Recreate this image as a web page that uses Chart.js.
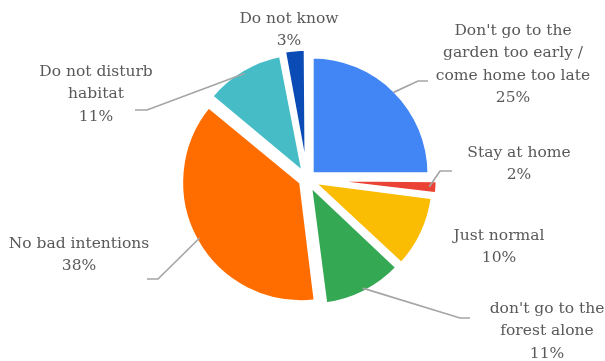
<!DOCTYPE html>
<html>
<head>
<meta charset="utf-8">
<script src="https://cdn.jsdelivr.net/npm/chart.js@4/dist/chart.umd.min.js"></script>
<style>
  html, body { margin: 0; padding: 0; background: #fff; }
  #wrap { width: 605px; height: 361px; position: relative; }
</style>
</head>
<body>
<div id="wrap"><canvas id="pie"></canvas></div>
<script>
// Data
const categories = [
    ["Don't go to the", 'garden too early /', 'come home too late'],
    ['Stay at home'],
    ['Just normal'],
    ["don't go to the", 'forest alone'],
    ['No bad intentions'],
    ['Do not disturb', 'habitat'],
    ['Do not know']
];
const shares = [25, 2, 10, 11, 38, 11, 3];
const sliceColors = ['#4285F4', '#EA4335', '#FBBC04', '#34A853', '#FF6D01', '#46BDC6', '#0B4BB5'];

// Label placement: text centre (first line) and optional leader elbow/end
const labelLayout = [
    { x: 513, y: 31, elbow: [418, 81], end: [428, 81] },
    { x: 519, y: 153, elbow: [440, 171], end: [452, 171] },
    { x: 499, y: 236 },
    { x: 547, y: 309, elbow: [460, 318], end: [470, 318] },
    { x: 79, y: 244, elbow: [158, 279], end: [147, 279] },
    { x: 96, y: 72, elbow: [147, 110], end: [135, 110] },
    { x: 289, y: 19 }
];

const SLICE_OFFSET = 28;   // chart.js moves slices by offset / 4
const BORDER = 3.5;
const LINE_H = 22.4;

const pieLabels = {
    id: 'pieLabels',
    afterDatasetsDraw(chart) {
        const ctx = chart.ctx;
        const arcs = chart.getDatasetMeta(0).data;
        ctx.save();
        arcs.forEach((arc, i) => {
            const lay = labelLayout[i];
            const p = arc.getProps(['x', 'y', 'startAngle', 'endAngle', 'outerRadius'], true);
            const mid = (p.startAngle + p.endAngle) / 2;
            const shift = SLICE_OFFSET / 4;
            const r = p.outerRadius - BORDER / 2 + shift;

            // leader line
            if (lay.elbow) {
                ctx.beginPath();
                ctx.moveTo(p.x + Math.cos(mid) * r, p.y + Math.sin(mid) * r);
                ctx.lineTo(lay.elbow[0], lay.elbow[1]);
                ctx.lineTo(lay.end[0], lay.end[1]);
                ctx.strokeStyle = '#A5A5A5';
                ctx.lineWidth = 1.7;
                ctx.stroke();
            }

            // text
            const lines = [...categories[i], shares[i] + '%'];
            ctx.fillStyle = '#595959';
            ctx.font = '15.5px "DejaVu Serif"';
            ctx.textAlign = 'center';
            ctx.textBaseline = 'middle';
            lines.forEach((t, k) => ctx.fillText(t, lay.x, lay.y + k * LINE_H));
        });
        ctx.restore();
    }
};

new Chart(document.getElementById('pie'), {
    type: 'pie',
    data: {
        labels: categories.map(c => c.join(' ')),
        datasets: [{
            data: shares,
            backgroundColor: sliceColors,
            borderColor: '#ffffff',
            borderWidth: BORDER,
            hoverBorderWidth: BORDER,
            offset: SLICE_OFFSET,
            hoverOffset: SLICE_OFFSET
        }]
    },
    options: {
        responsive: true,
        maintainAspectRatio: false,
        animation: false,
        events: [],
        layout: { padding: { left: 174, right: 165, top: 46, bottom: 49 } },
        plugins: {
            legend: { display: false },
            tooltip: { enabled: false }
        }
    },
    plugins: [pieLabels]
});
</script>
</body>
</html>
